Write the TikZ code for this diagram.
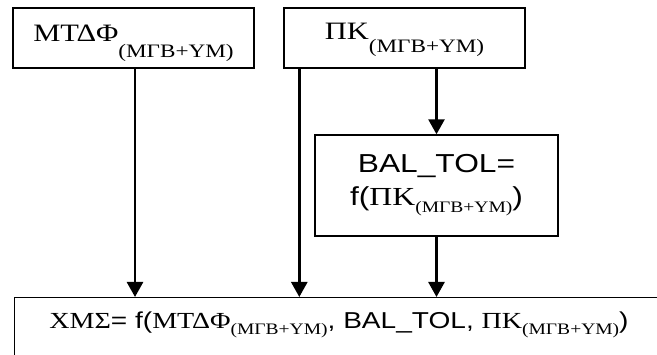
\documentclass[tikz,border=0pt]{standalone}
\usepackage{fontspec}
\setmainfont{Liberation Sans}
\newfontfamily\grk{Liberation Serif}
\usetikzlibrary{arrows.meta}
\newcommand{\wide}[1]{\scalebox{1.22}[1]{#1}}
\newcommand{\mgb}[2]{\raisebox{-#2}{\fontsize{#1}{#1}\selectfont\grk(ΜΓΒ+ΥΜ)}}

\begin{document}
\begin{tikzpicture}[x=1pt, y=-1pt, box/.style={rectangle, draw=black, line width=1.4pt, inner sep=0pt}, arr/.style={draw=black, line width=2.6pt, -{Triangle[width=16pt,length=15pt]}}]
			\useasboundingbox (0,0) rectangle (657,355);
			\clip (0,0) rectangle (657,355);
			
			\node[box, minimum width=241pt, minimum height=60pt, text height=25pt, text depth=17pt, font=\fontsize{25}{30}\selectfont] (mtdf) at (133.5,38) {\wide{\grk ΜΤΔΦ\mgb{19}{16pt}}};
			\node[box, minimum width=241pt, minimum height=60pt, text height=23pt, text depth=19pt, font=\fontsize{25}{30}\selectfont] (pk) at (404.5,38) {\wide{\grk ΠΚ\mgb{19}{13pt}}};
			\node[box, minimum width=243pt, minimum height=101pt, align=center, font=\fontsize{26}{33}\selectfont] (bal) at (436.5,185.5) {\wide{BAL\_TOL=}\\\wide{f({\grk ΠΚ}\mgb{16}{7pt})}};
			\node[box, minimum width=700pt, minimum height=100pt, anchor=north west] (xms) at (14,297) {};
			\node[font=\fontsize{23}{28}\selectfont, inner sep=0pt] (xmstext) at (339,325) {\wide{{\grk ΧΜΣ}= f({\grk ΜΤΔΦ}\mgb{16}{6pt}, BAL\_TOL, {\grk ΠΚ}\mgb{16}{6pt})}};
			
			\draw[arr] ([xshift=1.5pt]mtdf.south) -- ([xshift=1.5pt]mtdf.south |- xms.north);
			\draw[arr] ([xshift=16pt]pk.south west) -- ([xshift=16pt]pk.south west |- xms.north);
			\draw[arr] (bal.north |- pk.south) -- (bal.north);
			\draw[arr] (bal.south) -- (bal.south |- xms.north);
			\end{tikzpicture}
\end{document}
